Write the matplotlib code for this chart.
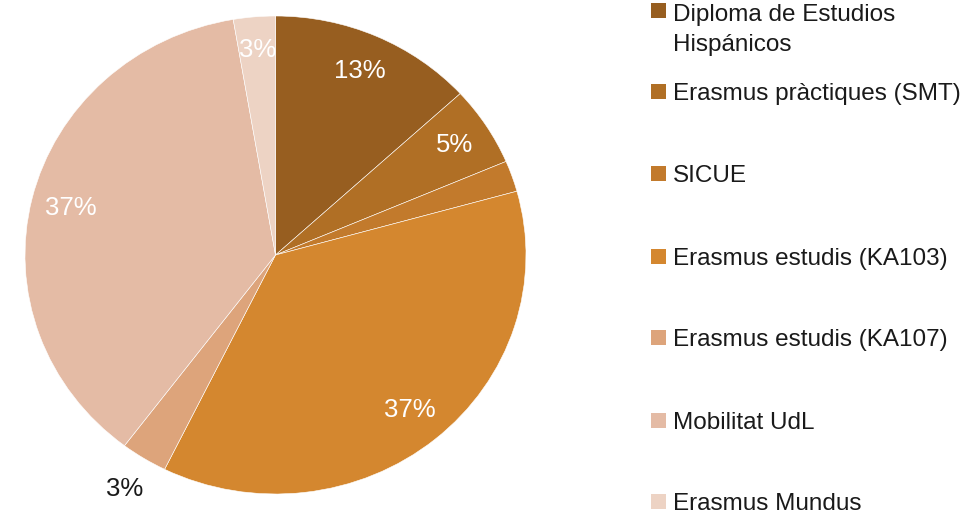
import matplotlib
matplotlib.use("Agg")
import matplotlib.pyplot as plt
from matplotlib.patches import Rectangle
import numpy as np

plt.rcParams['font.family'] = ['Liberation Sans', 'DejaVu Sans']

categories = [
    "Diploma de Estudios\nHispánicos",
    "Erasmus pràctiques (SMT)",
    "SICUE",
    "Erasmus estudis (KA103)",
    "Erasmus estudis (KA107)",
    "Mobilitat UdL",
    "Erasmus Mundus",
]
shares = [13.2, 5.4, 2.1, 36.6, 3.0, 37.0, 2.7]
pct_labels = ["13%", "5%", "", "37%", "3%", "37%", "3%"]
colors = ["#975E20", "#B06F25", "#C27A2C", "#D4872F", "#DDA47B", "#E4BBA5", "#EDD3C4"]
label_colors = ["white", "white", "white", "white", "#1a1a1a", "white", "white"]
label_radius = [0.84, 0.85, 0.84, 0.84, 1.15, 0.84, 0.86]

W, H = 969, 513
fig = plt.figure(figsize=(W / 100, H / 100), dpi=100)

# pie area in pixels (slightly squashed vertically like the source)
left, right, top, bottom = 25, 526, 16, 494
ax = fig.add_axes([left / W, 1 - bottom / H, (right - left) / W, (bottom - top) / H])
wedges, _ = ax.pie(shares, colors=colors, startangle=90, counterclock=False,
                   wedgeprops=dict(edgecolor="white", linewidth=0.4))
ax.set_aspect("auto")
ax.set_xlim(-1, 1)
ax.set_ylim(-1, 1)

for w, lab, c, r in zip(wedges, pct_labels, label_colors, label_radius):
    if not lab:
        continue
    ang = np.deg2rad((w.theta1 + w.theta2) / 2)
    ax.text(r * np.cos(ang), r * np.sin(ang), lab, color=c, fontsize=18.5,
            ha="center", va="center")

# legend drawn by hand to keep the wide row spacing
box_x, box_size, text_x = 651, 15, 673
box_tops = [3, 84, 166, 249, 330, 413, 494]
line_pitch = 32
for name, col, bt in zip(categories, colors, box_tops):
    fig.patches.append(Rectangle((box_x / W, 1 - (bt + box_size) / H), box_size / W, box_size / H,
                                 transform=fig.transFigure, facecolor=col, edgecolor="none"))
    # baseline of the last line (matplotlib anchors multi-line text there)
    base = bt + box_size + 1 + line_pitch * name.count("\n")
    fig.text(text_x / W, 1 - base / H, name, fontsize=17.5, color="#1a1a1a",
             ha="left", va="baseline", linespacing=1.49)

fig.savefig("out.png", dpi=100)
